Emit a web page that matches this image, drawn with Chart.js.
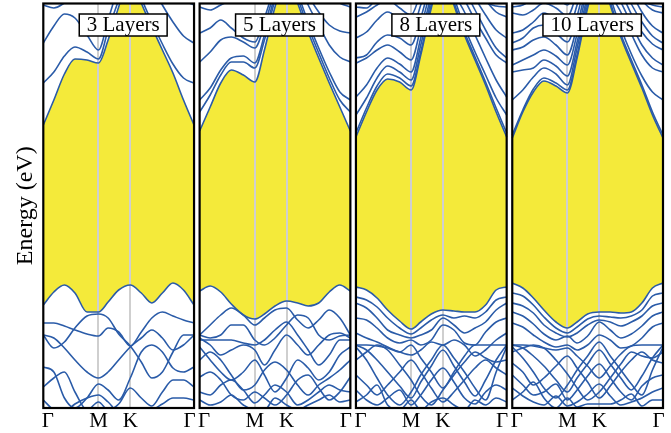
<!DOCTYPE html>
<html>
<head>
<meta charset="utf-8">
<script src="https://cdn.jsdelivr.net/npm/chart.js@4.4.1/dist/chart.umd.min.js"></script>
<style>
  html, body { margin: 0; padding: 0; background: #fff; }
  canvas { display: block; }
</style>
</head>
<body>
<canvas id="bands" width="671" height="433"></canvas>
<script>
const kLabels = ["Γ", "M", "K", "Γ"];
const kTicks = [0, 0.366, 0.577, 1];
const kPath = [0, 0.07, 0.14, 0.21, 0.29, 0.366, 0.43, 0.50, 0.577, 0.65, 0.72, 0.79, 0.86, 0.93, 1];
const panelTitles = ["3 Layers", "5 Layers", "8 Layers", "10 Layers"];

// energies (eV) along the path, first row of each block = band edge
const cond3 = [
  [-1.25, -1.00, -0.74, -0.59, -0.60, -0.63, -0.40, -0.07, 0.27, -0.03, -0.27, -0.50, -0.73, -1.00, -1.25],
  [-0.83, -0.72, -0.56, -0.47, -0.52, -0.59, -0.30, 0.00, 0.32, 0.02, -0.22, -0.44, -0.64, -0.78, -0.83],
  [-0.43, -0.26, -0.14, -0.18, -0.35, -0.50, -0.20, 0.15, 0.55, 0.40, 0.15, -0.05, -0.22, -0.36, -0.43],
  [-0.05, -0.08, -0.03, 0.05, 0.12, 0.08, 0.30, 0.60, 0.90, 0.70, 0.45, 0.25, 0.10, 0.00, -0.05]
];
const val3 = [
  [-3.05, -2.92, -2.85, -2.93, -3.12, -3.12, -3.02, -2.90, -2.85, -2.93, -3.03, -2.93, -2.83, -2.90, -3.05],
  [-3.23, -3.23, -3.26, -3.30, -3.34, -3.36, -3.28, -3.32, -3.46, -3.32, -3.18, -3.12, -3.16, -3.20, -3.23],
  [-3.35, -3.48, -3.42, -3.28, -3.16, -3.14, -3.18, -3.34, -3.46, -3.62, -3.78, -3.72, -3.52, -3.35, -3.35],
  [-3.35, -3.38, -3.48, -3.60, -3.72, -3.78, -3.72, -3.60, -3.47, -3.38, -3.30, -3.38, -3.50, -3.45, -3.35],
  [-3.67, -3.72, -3.98, -4.08, -3.98, -3.84, -3.90, -4.00, -3.78, -3.52, -3.45, -3.52, -3.68, -3.72, -3.67],
  [-3.87, -3.78, -3.72, -3.92, -4.10, -4.02, -4.10, -4.04, -3.88, -3.98, -4.06, -3.92, -3.80, -3.80, -3.87],
  [-4.00, -4.10, -4.12, -4.04, -3.98, -3.95, -4.02, -4.12, -4.10, -4.13, -4.10, -4.04, -3.98, -3.98, -4.00]
];

const cond5 = [
  [-1.31, -1.07, -0.83, -0.70, -0.75, -0.82, -0.50, -0.07, 0.27, -0.03, -0.32, -0.58, -0.83, -1.07, -1.31],
  [-1.12, -0.95, -0.75, -0.62, -0.62, -0.68, -0.40, 0.00, 0.32, 0.02, -0.27, -0.53, -0.78, -1.00, -1.12],
  [-1.00, -0.88, -0.70, -0.58, -0.56, -0.63, -0.35, 0.05, 0.37, 0.07, -0.22, -0.48, -0.72, -0.92, -1.00],
  [-0.62, -0.52, -0.40, -0.37, -0.42, -0.48, -0.25, 0.10, 0.45, 0.20, -0.05, -0.25, -0.45, -0.57, -0.62],
  [-0.33, -0.28, -0.20, -0.28, -0.38, -0.42, -0.18, 0.15, 0.50, 0.30, 0.05, -0.12, -0.25, -0.31, -0.33],
  [-0.07, -0.10, -0.05, 0.00, 0.05, 0.00, 0.20, 0.50, 0.80, 0.60, 0.40, 0.20, 0.05, -0.03, -0.07]
];
const val5 = [
  [-2.91, -2.86, -2.92, -3.04, -3.15, -3.19, -3.14, -3.06, -3.01, -3.03, -3.06, -3.03, -2.92, -2.85, -2.91],
  [-3.35, -3.25, -3.15, -3.08, -3.15, -3.25, -3.18, -3.10, -3.08, -3.20, -3.28, -3.20, -3.10, -3.18, -3.35],
  [-3.35, -3.38, -3.35, -3.25, -3.25, -3.40, -3.45, -3.38, -3.25, -3.15, -3.18, -3.35, -3.40, -3.36, -3.35],
  [-3.38, -3.45, -3.55, -3.50, -3.45, -3.50, -3.65, -3.50, -3.35, -3.45, -3.55, -3.45, -3.35, -3.33, -3.38],
  [-3.40, -3.40, -3.40, -3.40, -3.43, -3.45, -3.40, -3.30, -3.22, -3.35, -3.50, -3.65, -3.55, -3.40, -3.40],
  [-3.47, -3.60, -3.72, -3.80, -3.72, -3.60, -3.75, -3.92, -3.78, -3.60, -3.68, -3.80, -3.72, -3.55, -3.47],
  [-3.60, -3.52, -3.60, -3.75, -3.90, -3.85, -3.70, -3.62, -3.70, -3.85, -3.95, -3.85, -3.78, -3.70, -3.60],
  [-3.77, -3.72, -3.80, -3.95, -4.00, -3.92, -3.98, -4.05, -3.95, -3.80, -3.75, -3.88, -4.00, -3.92, -3.77],
  [-3.92, -3.95, -3.85, -3.80, -3.90, -4.03, -3.95, -3.85, -3.92, -4.05, -4.00, -3.92, -3.85, -3.90, -3.92],
  [-4.00, -4.05, -4.02, -3.95, -4.05, -4.10, -4.10, -3.98, -4.05, -4.10, -4.05, -4.00, -3.95, -4.02, -4.00]
];

const cond8 = [
  [-1.37, -1.12, -0.90, -0.79, -0.82, -0.90, -0.55, -0.08, 0.30, -0.05, -0.35, -0.60, -0.85, -1.12, -1.37],
  [-1.33, -1.08, -0.86, -0.74, -0.78, -0.86, -0.52, -0.05, 0.33, -0.02, -0.32, -0.57, -0.82, -1.08, -1.33],
  [-1.15, -0.98, -0.78, -0.66, -0.72, -0.80, -0.45, 0.00, 0.38, 0.03, -0.27, -0.52, -0.75, -0.98, -1.15],
  [-0.97, -0.85, -0.68, -0.58, -0.64, -0.72, -0.38, 0.05, 0.42, 0.08, -0.12, -0.35, -0.58, -0.80, -0.97],
  [-0.63, -0.58, -0.50, -0.45, -0.52, -0.60, -0.28, 0.12, 0.48, 0.15, 0.00, -0.20, -0.38, -0.55, -0.63],
  [-0.58, -0.55, -0.42, -0.35, -0.38, -0.45, -0.18, 0.20, 0.55, 0.25, 0.10, -0.10, -0.30, -0.48, -0.58],
  [-0.38, -0.32, -0.20, -0.12, -0.20, -0.30, -0.05, 0.30, 0.60, 0.35, 0.20, 0.02, -0.15, -0.30, -0.38],
  [-0.17, -0.12, -0.05, 0.00, -0.08, -0.15, 0.08, 0.40, 0.70, 0.45, 0.30, 0.15, 0.00, -0.12, -0.17],
  [-0.07, -0.08, 0.02, 0.10, 0.05, -0.03, 0.20, 0.50, 0.80, 0.55, 0.30, 0.10, -0.02, -0.06, -0.07]
];
const val8 = [
  [-2.87, -2.90, -2.98, -3.10, -3.21, -3.29, -3.22, -3.14, -3.10, -3.11, -3.12, -3.12, -3.05, -2.90, -2.87],
  [-2.97, -3.00, -3.07, -3.18, -3.28, -3.34, -3.28, -3.20, -3.15, -3.18, -3.16, -3.18, -3.12, -3.00, -2.97],
  [-3.03, -3.08, -3.18, -3.30, -3.35, -3.38, -3.35, -3.30, -3.18, -3.25, -3.33, -3.28, -3.22, -3.10, -3.03],
  [-3.18, -3.20, -3.28, -3.38, -3.43, -3.40, -3.45, -3.40, -3.25, -3.30, -3.43, -3.45, -3.32, -3.22, -3.18],
  [-3.33, -3.38, -3.42, -3.47, -3.52, -3.55, -3.50, -3.42, -3.45, -3.40, -3.45, -3.56, -3.50, -3.40, -3.33],
  [-3.45, -3.45, -3.46, -3.48, -3.52, -3.45, -3.58, -3.72, -3.88, -3.72, -3.56, -3.45, -3.45, -3.45, -3.45],
  [-3.45, -3.50, -3.60, -3.72, -3.86, -3.98, -3.82, -3.66, -3.50, -3.66, -3.82, -3.96, -3.80, -3.60, -3.45],
  [-3.47, -3.60, -3.78, -3.95, -4.05, -3.92, -3.75, -3.60, -3.45, -3.58, -3.72, -3.88, -4.00, -3.72, -3.47],
  [-3.60, -3.52, -3.45, -3.50, -3.65, -3.80, -3.96, -4.05, -3.90, -3.75, -3.62, -3.52, -3.58, -3.62, -3.60],
  [-3.75, -3.85, -3.95, -3.85, -3.72, -3.60, -3.72, -3.88, -4.02, -3.92, -3.80, -3.68, -3.60, -3.68, -3.75],
  [-3.90, -4.00, -4.05, -3.98, -3.90, -4.05, -3.95, -3.80, -3.68, -3.82, -3.98, -4.04, -3.92, -3.85, -3.90],
  [-4.02, -3.95, -3.85, -4.05, -4.10, -4.00, -4.10, -4.02, -3.98, -4.05, -4.10, -4.00, -4.05, -3.98, -4.02]
];

const cond10 = [
  [-1.38, -1.12, -0.92, -0.81, -0.86, -0.93, -0.58, -0.08, 0.30, -0.05, -0.37, -0.63, -0.88, -1.15, -1.38],
  [-1.35, -1.10, -0.89, -0.78, -0.83, -0.90, -0.55, -0.05, 0.33, -0.02, -0.34, -0.60, -0.85, -1.12, -1.35],
  [-1.00, -0.90, -0.77, -0.68, -0.74, -0.85, -0.48, 0.00, 0.38, 0.03, -0.28, -0.54, -0.76, -0.92, -1.00],
  [-0.72, -0.70, -0.68, -0.60, -0.66, -0.76, -0.42, 0.05, 0.42, 0.08, -0.12, -0.34, -0.55, -0.68, -0.72],
  [-0.65, -0.60, -0.55, -0.50, -0.56, -0.65, -0.34, 0.12, 0.48, 0.15, -0.02, -0.24, -0.45, -0.58, -0.65],
  [-0.50, -0.47, -0.40, -0.37, -0.45, -0.55, -0.26, 0.18, 0.54, 0.22, 0.08, -0.14, -0.32, -0.44, -0.50],
  [-0.43, -0.38, -0.28, -0.25, -0.33, -0.42, -0.16, 0.26, 0.60, 0.30, 0.18, -0.04, -0.22, -0.36, -0.43],
  [-0.33, -0.30, -0.22, -0.13, -0.20, -0.30, -0.05, 0.35, 0.68, 0.38, 0.28, 0.08, -0.12, -0.26, -0.33],
  [-0.13, -0.15, -0.10, -0.03, -0.08, -0.16, 0.08, 0.45, 0.78, 0.48, 0.38, 0.18, 0.00, -0.10, -0.13],
  [-0.07, -0.05, 0.02, 0.10, 0.04, -0.05, 0.20, 0.55, 0.88, 0.58, 0.32, 0.13, 0.00, -0.05, -0.07]
];
const val10 = [
  [-2.83, -2.88, -2.98, -3.10, -3.22, -3.28, -3.22, -3.14, -3.12, -3.12, -3.13, -3.12, -3.03, -2.88, -2.83],
  [-2.93, -2.96, -3.05, -3.17, -3.28, -3.33, -3.27, -3.19, -3.16, -3.17, -3.18, -3.16, -3.10, -2.96, -2.93],
  [-3.03, -3.06, -3.13, -3.25, -3.33, -3.37, -3.33, -3.25, -3.20, -3.22, -3.26, -3.22, -3.16, -3.06, -3.03],
  [-3.12, -3.16, -3.24, -3.34, -3.40, -3.36, -3.43, -3.36, -3.22, -3.30, -3.38, -3.34, -3.26, -3.16, -3.12],
  [-3.23, -3.27, -3.35, -3.42, -3.47, -3.45, -3.50, -3.45, -3.35, -3.40, -3.48, -3.46, -3.38, -3.27, -3.23],
  [-3.45, -3.45, -3.46, -3.48, -3.50, -3.48, -3.56, -3.66, -3.78, -3.66, -3.54, -3.46, -3.45, -3.45, -3.45],
  [-3.45, -3.48, -3.56, -3.66, -3.80, -3.92, -3.78, -3.64, -3.50, -3.64, -3.78, -3.90, -3.76, -3.58, -3.45],
  [-3.47, -3.58, -3.72, -3.88, -3.98, -3.85, -3.70, -3.56, -3.42, -3.56, -3.70, -3.84, -3.95, -3.70, -3.47],
  [-3.52, -3.48, -3.45, -3.48, -3.60, -3.74, -3.88, -4.00, -3.92, -3.78, -3.64, -3.52, -3.56, -3.58, -3.52],
  [-3.63, -3.72, -3.85, -3.78, -3.66, -3.56, -3.68, -3.82, -3.98, -3.86, -3.72, -3.60, -3.52, -3.60, -3.63],
  [-3.75, -3.85, -3.95, -3.92, -3.84, -4.00, -3.90, -3.76, -3.64, -3.78, -3.92, -4.00, -3.86, -3.78, -3.75],
  [-3.88, -3.96, -4.02, -4.05, -3.96, -4.06, -4.02, -3.94, -3.84, -3.96, -4.05, -4.02, -3.98, -3.92, -3.88],
  [-4.00, -3.92, -3.82, -3.98, -4.08, -3.98, -4.07, -4.04, -4.04, -4.04, -4.00, -3.94, -4.06, -4.00, -4.00]
];

const conduction = [cond3, cond5, cond8, cond10];
const valence = [val3, val5, val8, val10];

const GAP = 0.037;          // space between panels, in path units
const LABEL_INSET = 0.03;   // Γ labels sit a little inside the frame
const lineColor = "#2a5ba8";
const gapColor = "#f4ea3a";
const serif = "'Liberation Serif', 'Times New Roman', serif";

const datasets = [];
const tickValues = [];

panelTitles.forEach((title, p) => {
  const off = p * (1 + GAP);
  const first = datasets.length;
  const edge = first + conduction[p].length; // top valence band
  conduction[p].concat(valence[p]).forEach((band, b) => {
    datasets.push({
      data: kPath.map((k, i) => ({ x: off + k, y: band[i] })),
      borderColor: lineColor,
      borderWidth: 1.6,
      pointRadius: 0,
      cubicInterpolationMode: "monotone",
      fill: b === 0 ? edge : false,
      backgroundColor: gapColor
    });
  });
  kTicks.forEach((t, i) => {
    let v = off + t;
    if (i === 0) v += LABEL_INSET;
    if (i === kTicks.length - 1) v -= LABEL_INSET;
    tickValues.push(v);
  });
});

const panelFrames = {
  id: "panelFrames",
  afterDraw(chart) {
    const { ctx, chartArea, scales: { x } } = chart;
    ctx.save();
    panelTitles.forEach((title, p) => {
      const off = p * (1 + GAP);
      const x0 = x.getPixelForValue(off);
      const x1 = x.getPixelForValue(off + 1);
      ctx.strokeStyle = "#000";
      ctx.lineWidth = 2.2;
      ctx.strokeRect(x0, chartArea.top, x1 - x0, chartArea.bottom - chartArea.top);

      ctx.font = "21px " + serif;
      const w = ctx.measureText(title).width + 15;
      const cx = x.getPixelForValue(off + 0.53);
      ctx.fillStyle = "#fff";
      ctx.fillRect(cx - w / 2, 14, w, 22);
      ctx.lineWidth = 1.5;
      ctx.strokeRect(cx - w / 2, 14, w, 22);
      ctx.fillStyle = "#000";
      ctx.textAlign = "center";
      ctx.textBaseline = "alphabetic";
      ctx.fillText(title, cx, 31);
    });
    ctx.restore();
  }
};

new Chart(document.getElementById("bands"), {
  type: "line",
  data: { datasets },
  plugins: [panelFrames],
  options: {
    responsive: false,
    animation: false,
    events: [],
    devicePixelRatio: 1,
    layout: { padding: { top: 3.5, right: 8, bottom: 0, left: 0 } },
    plugins: {
      legend: { display: false },
      tooltip: { enabled: false },
      filler: { drawTime: "beforeDraw" }
    },
    scales: {
      x: {
        type: "linear",
        min: 0,
        max: 4 + 3 * GAP,
        afterBuildTicks: (s) => { s.ticks = tickValues.map(v => ({ value: v })); },
        afterFit: (s) => { s.height = 25; },
        ticks: {
          autoSkip: false,
          maxRotation: 0,
          minRotation: 0,
          padding: 1,
          color: "#000",
          font: { family: serif, size: 21 },
          callback: (v, i) => kLabels[i % kLabels.length]
        },
        grid: {
          drawTicks: false,
          lineWidth: 2,
          color: (c) => (c.index % 4 === 1 || c.index % 4 === 2) ? "#cfcfcf" : "rgba(0,0,0,0)"
        },
        border: { display: false }
      },
      y: {
        min: -4.08,
        max: -0.035,
        afterFit: (s) => { s.width = 43.3; },
        ticks: { display: false },
        grid: { display: false },
        border: { display: false },
        title: {
          display: true,
          text: "Energy (eV)",
          color: "#000",
          font: { family: serif, size: 24 },
          padding: { top: 11, bottom: 0 }
        }
      }
    }
  }
});
</script>
</body>
</html>
